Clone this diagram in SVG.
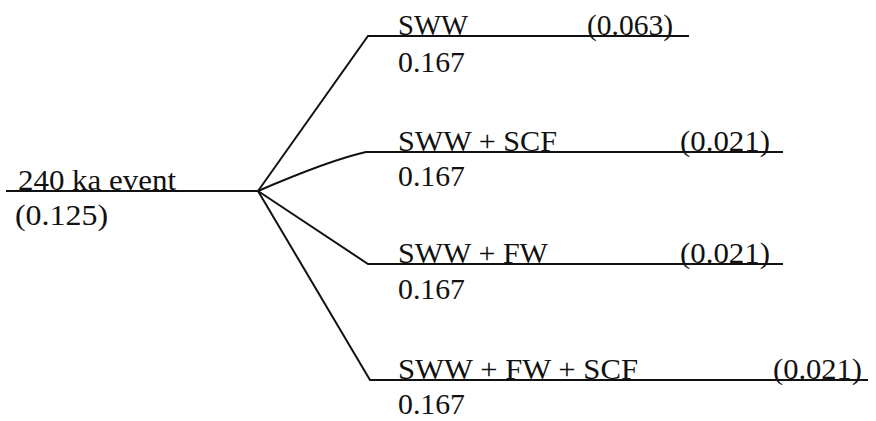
<svg xmlns="http://www.w3.org/2000/svg" width="876" height="421" viewBox="0 0 876 421">
<style>
text{font-family:'Liberation Serif','Times New Roman','DejaVu Serif',serif;font-size:30px;fill:#111}
.ln{stroke:#111;stroke-width:2;fill:none}
</style>
<rect width="876" height="421" fill="#fff"/>
<g id="connectors">
<path class="ln" d="M6,191 H258"/>
<path class="ln" d="M258,191 L368,36 H689"/>
<path class="ln" d="M258,191 Q330,160 366,152 H783"/>
<path class="ln" d="M258,191 L368,264 H783"/>
<path class="ln" d="M258,191 L370,380 H868"/>
</g>
<g id="root">
<text x="18" y="190" textLength="158" lengthAdjust="spacingAndGlyphs">240 ka event</text>
<text x="15" y="225" textLength="93" lengthAdjust="spacingAndGlyphs">(0.125)</text>
</g>
<g id="b1">
<text x="398" y="35" textLength="70" lengthAdjust="spacingAndGlyphs">SWW</text>
<text x="587" y="35" textLength="86" lengthAdjust="spacingAndGlyphs">(0.063)</text>
<text x="398" y="72" textLength="67" lengthAdjust="spacingAndGlyphs">0.167</text>
</g>
<g id="b2">
<text x="398" y="151" textLength="159" lengthAdjust="spacingAndGlyphs">SWW + SCF</text>
<text x="680" y="151" textLength="90" lengthAdjust="spacingAndGlyphs">(0.021)</text>
<text x="398" y="186" textLength="67" lengthAdjust="spacingAndGlyphs">0.167</text>
</g>
<g id="b3">
<text x="398" y="263" textLength="150" lengthAdjust="spacingAndGlyphs">SWW + FW</text>
<text x="680" y="263" textLength="90" lengthAdjust="spacingAndGlyphs">(0.021)</text>
<text x="398" y="299" textLength="67" lengthAdjust="spacingAndGlyphs">0.167</text>
</g>
<g id="b4">
<text x="398" y="379" textLength="240" lengthAdjust="spacingAndGlyphs">SWW + FW + SCF</text>
<text x="773" y="379" textLength="89" lengthAdjust="spacingAndGlyphs">(0.021)</text>
<text x="398" y="414" textLength="67" lengthAdjust="spacingAndGlyphs">0.167</text>
</g>
</svg>
